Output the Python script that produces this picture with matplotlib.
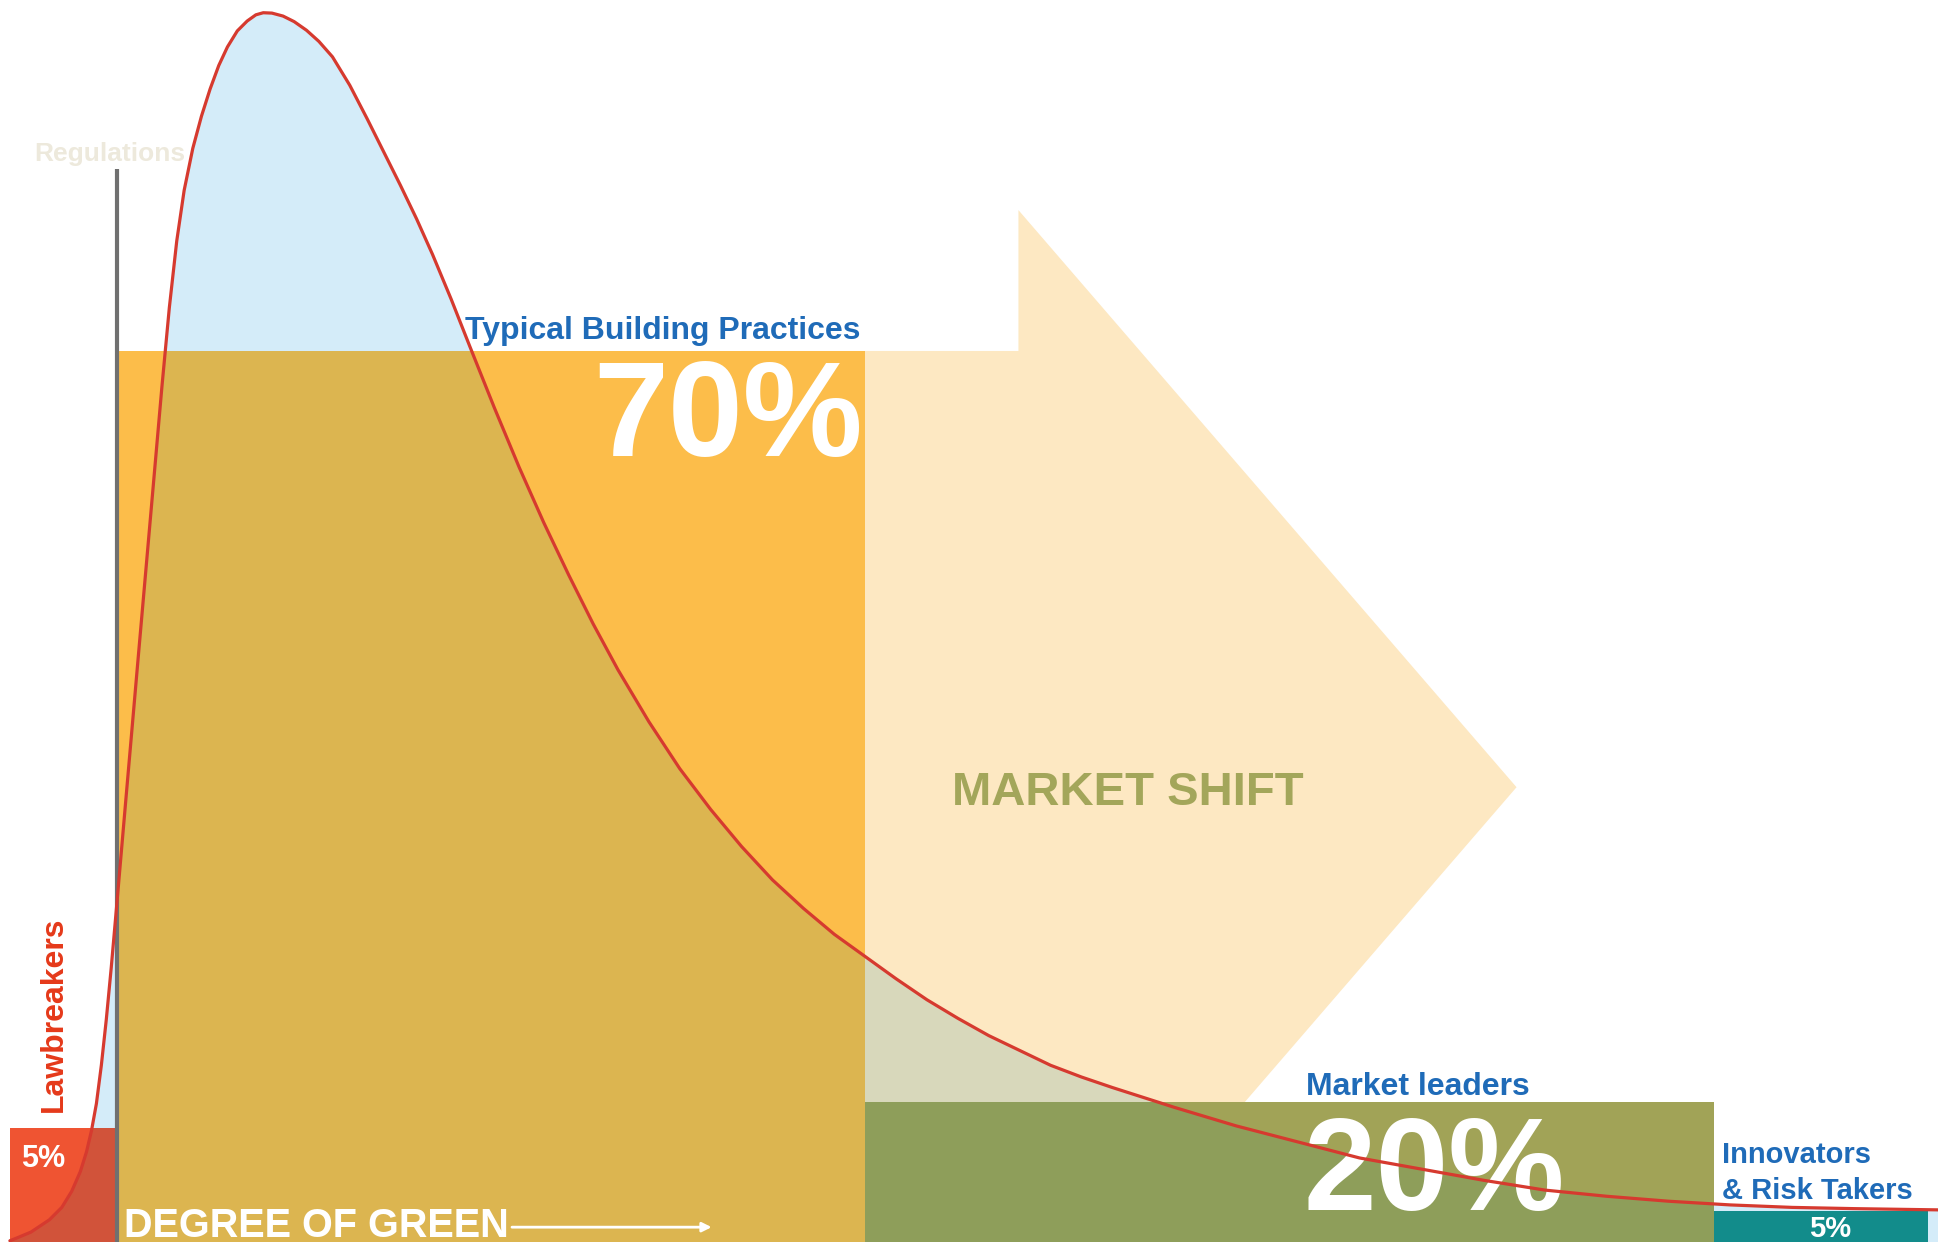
import numpy as np
import matplotlib
matplotlib.use("Agg")
import matplotlib.pyplot as plt
from matplotlib.patches import Polygon

# curve of the market (degree of green -> how many buildings)
curve_x = [8, 13, 25, 40, 50, 58, 65, 70, 74, 78, 82, 86, 90, 95, 102, 112, 124, 131,
           137, 143, 149, 156, 163, 170, 177, 184, 192, 200, 207, 213, 220, 229, 238,
           248, 258, 269, 283, 297, 310, 324, 337, 350, 365, 380, 400, 420, 440, 460,
           480, 500, 525, 550, 575, 600, 625, 650, 675, 700, 725, 750, 775, 800, 825,
           850, 875, 900, 925, 950, 1000, 1050, 1100, 1150, 1200, 1250, 1300, 1350,
           1400, 1450, 1500, 1568]
curve_y = [1, 3, 8, 18, 28, 41, 57, 73, 90, 112, 143, 180, 222, 279, 360, 475, 612, 692,
           756, 810, 851, 885, 911, 933, 952, 967, 980, 988, 993, 994.7, 994.4, 992, 987.5,
           980.5, 971.5, 959, 936, 909, 883, 855, 828, 799, 763, 725, 675, 627, 582, 540,
           500, 463, 421, 383, 350, 320, 293, 270, 249, 231, 213, 196, 181, 167, 155,
           143, 133.5, 125, 117, 109, 94, 81, 68, 59, 50, 42, 37, 33,
           30, 28, 27, 26]

# segments
seg_labels = ["Lawbreakers", "Typical Building Practices", "Market leaders", "Innovators\n& Risk Takers"]
seg_share = ["5%", "70%", "20%", "5%"]
seg_edges = [8, 95, 700, 1387, 1560]
seg_height = [92, 721, 113, 25]

W, H = 1568, 1005

plt.rcParams["font.family"] = ["Liberation Sans", "DejaVu Sans"]

fig = plt.figure(figsize=(19.38, 12.42), dpi=100)
ax = fig.add_axes([0, 0, 1, 1])
ax.set_xlim(0, W)
ax.set_ylim(0, H)
ax.axis("off")

under = list(zip(curve_x, curve_y)) + [(curve_x[-1], 0), (curve_x[0], 0)]

# light blue area under the curve
ax.add_patch(Polygon(under, closed=True, fc="#D4ECF9", ec="none", zorder=1))

# market shift arrow
arrow = Polygon([(600, 15), (600, 721), (824, 721), (824, 835), (1227, 368),
                 (824, -99), (824, 15)], closed=True, fc="#FDE8C2", ec="none", zorder=2)
ax.add_patch(arrow)
p = Polygon(under, closed=True, fc="#D8D8BB", ec="none", zorder=2.5)
ax.add_patch(p)
p.set_clip_path(arrow)

# bars
widths = np.diff(seg_edges)
colors = ["#EF5432", "#FCBD4A", "#A1A357", "#128C8B"]
under_colors = ["#D1533A", "#DCB550", "#8E9E5A", "#128C8B"]
bars = ax.bar(seg_edges[:-1], seg_height, width=widths, align="edge",
              color=colors, edgecolor="none", zorder=3)
for b, c in zip(bars, under_colors):
    p = Polygon(under, closed=True, fc=c, ec="none", zorder=3.5)
    ax.add_patch(p)
    p.set_clip_path(b)

# regulations line
ax.plot([95, 95], [0, 868], color="#707070", lw=3, zorder=4, solid_capstyle="butt")

# curve
ax.plot(curve_x, curve_y, color="#D63A2F", lw=2.3, zorder=8,
        solid_capstyle="round", solid_joinstyle="round")

blue = "#1F6BB8"
ax.text(28, 875, "Regulations", color="#EDE9DC", fontsize=19, fontweight="bold", zorder=6)
ax.text(376, 731, seg_labels[1], color=blue, fontsize=23, fontweight="bold", zorder=6)
ax.text(698, 636, seg_share[1], color="white", fontsize=97, fontweight="bold", ha="right", zorder=6)
ax.text(770, 354, "MARKET SHIFT", color="#A3A65A", fontsize=34, fontweight="bold", zorder=6)
ax.text(1057, 119, seg_labels[2], color=blue, fontsize=23, fontweight="bold", zorder=6)
ax.text(1055, 26, seg_share[2], color="white", fontsize=94, fontweight="bold", zorder=6)
inn1, inn2 = seg_labels[3].split("\n")
ax.text(1393, 64, inn1, color=blue, fontsize=21, fontweight="bold", zorder=6)
ax.text(1393, 35, inn2, color=blue, fontsize=21, fontweight="bold", zorder=6)
ax.text(1481, 4, seg_share[3], color="white", fontsize=21, fontweight="bold", ha="center", zorder=9)
ax.text(17, 61, seg_share[0], color="white", fontsize=22, fontweight="bold", zorder=6)
ax.text(50, 105, seg_labels[0], color="#E5391A", fontsize=23, fontweight="bold",
        rotation=90, rotation_mode="anchor", ha="left", va="baseline", zorder=6)
ax.text(100, 4, "DEGREE OF GREEN", color="white", fontsize=28.5, fontweight="bold", zorder=6)
ax.annotate("", xy=(578, 12), xytext=(412, 12),
            arrowprops=dict(arrowstyle="-|>", color="white", lw=2, mutation_scale=14),
            zorder=6)

fig.savefig("out.png", dpi=100)
